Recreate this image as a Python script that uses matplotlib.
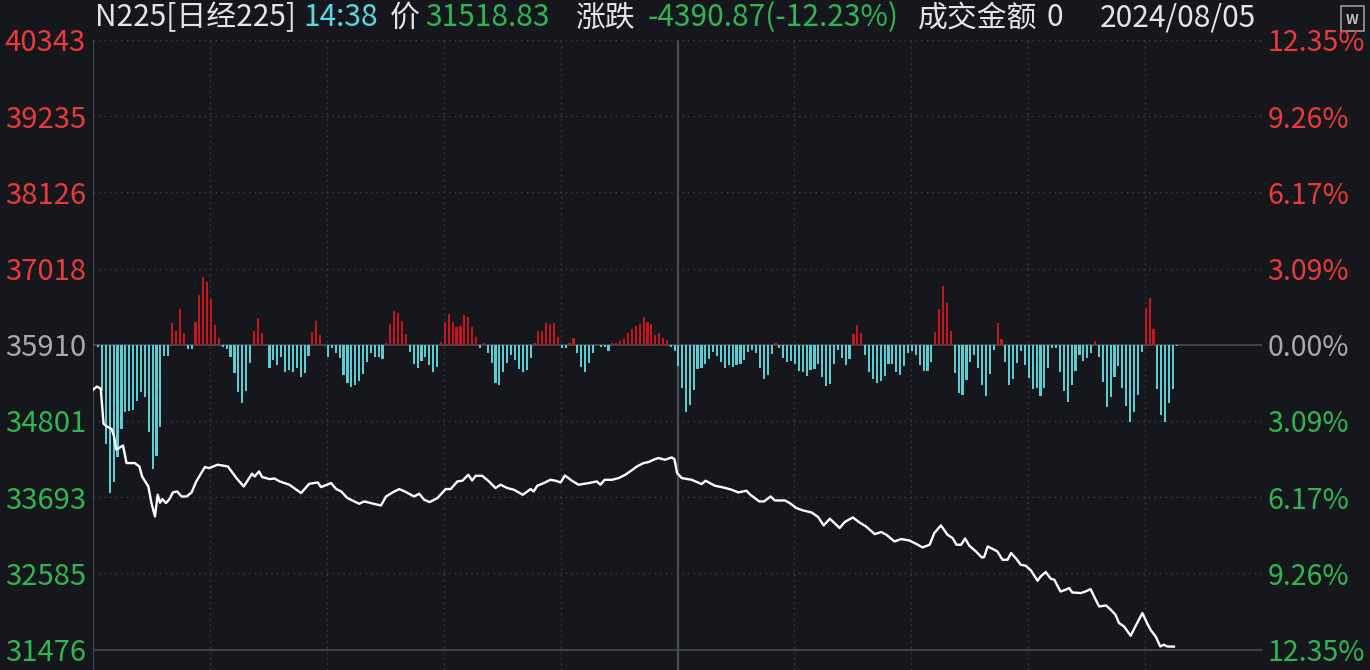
import numpy as np
import matplotlib
matplotlib.use("Agg")
import matplotlib.pyplot as plt
from matplotlib.patches import Rectangle

plt.rcParams['font.family'] = ['Noto Sans CJK SC', 'DejaVu Sans']

# ---------------- data ----------------
prev_close = 35910
price_ticks = [40343, 39235, 38126, 37018, 35910, 34801, 33693, 32585, 31476]
pct_labels = ["12.35%", "9.26%", "6.17%", "3.09%", "0.00%",
              "3.09%", "6.17%", "9.26%", "12.35%"]

# minutes since 09:00 (afternoon session continues at 150 = 12:30)
line_min = [0, 1.0, 2.0, 2.7, 3.5, 4.8, 5.4, 6.0, 7.7, 8.6, 10.7, 11.9, 12.6, 14.2, 15.0,
            15.9, 16.6, 17.2, 17.8, 18.7, 19.5, 20.5, 21.6, 22.7, 24.0, 25.3, 26.5, 28.7,
            29.8, 32.0, 34.6, 36.8, 38.7, 40.8, 41.5, 42.6, 43.4, 45.3, 46.6, 47.9, 50.4,
            53.4, 55.5, 57.7, 58.5, 61.1, 62.4, 63.7, 65.3, 68.3, 69.6, 71.3, 73.9, 75.2,
            76.9, 78.6, 80.3, 82.4, 83.7, 85.0, 86.4, 88.4, 90.5, 91.8, 93.5, 94.8, 96.3,
            97.3, 98.2, 99.9, 101.6, 103.3, 104.6, 106.3, 108.0, 110.3, 112.3, 113.1, 114.0,
            115.7, 117.4, 118.7, 120.0, 121.1, 122.9, 124.6, 127.2, 129.3, 130.2, 131.3,
            133.2, 134.9, 136.6, 137.6, 138.7, 139.6, 141.3, 142.6, 143.8, 145.1, 146.8,
            148.5, 149.2, 149.9, 151.1, 153.6, 156.2, 157.2, 159.6, 161.8, 163.9, 165.6,
            167.7, 168.7, 171.0, 172.2, 173.9, 175.0, 177.6, 178.8, 180.5, 182.2, 184.4,
            186.1, 187.5, 189.1, 190.3, 191.6, 192.9, 195.0, 196.7, 198.4, 200.6, 202.3,
            203.6, 205.7, 207.4, 209.5, 211.2, 212.9, 214.7, 215.9, 217.6, 219.3, 220.6,
            221.6, 222.8, 223.8, 224.9, 226.6, 228.1, 228.7, 229.6, 231.3, 232.1, 233.4,
            234.7, 235.6, 236.8, 238.1, 239.4, 240.7, 242.4, 243.2, 244.5, 245.8, 246.7,
            248.3, 249.6, 250.5, 251.3, 253.5, 254.7, 256.0, 257.1, 258.2, 260.0, 261.2,
            262.4, 263.3, 264.6, 266.3, 267.5, 269.3, 270.5, 271.4, 272.7, 273.9, 274.8,
            275.7, 277.4]
line_price = [35255, 35303, 35270, 34761, 34722, 34684, 34576, 34383, 34445, 34189, 34189,
              34140, 33994, 33849, 33607, 33412, 33728, 33612, 33666, 33607, 33655, 33762,
              33776, 33703, 33703, 33762, 33922, 34131, 34116, 34165, 34140, 33971, 33849,
              34034, 33994, 34067, 33986, 33956, 33964, 33922, 33874, 33753, 33888, 33907,
              33840, 33898, 33811, 33776, 33680, 33597, 33631, 33607, 33572, 33703, 33762,
              33811, 33767, 33703, 33743, 33655, 33622, 33680, 33811, 33811, 33922, 33932,
              34019, 33936, 34004, 34004, 33922, 33826, 33874, 33826, 33801, 33728, 33811,
              33776, 33859, 33898, 33946, 33932, 33907, 34009, 33932, 33874, 33898, 33922,
              33874, 33946, 33946, 33971, 34019, 34058, 34102, 34140, 34189, 34204, 34237,
              34262, 34237, 34271, 34247, 34044, 33971, 33946, 33884, 33932, 33859, 33834,
              33801, 33762, 33786, 33728, 33631, 33631, 33703, 33645, 33645, 33607, 33535,
              33500, 33471, 33404, 33282, 33379, 33316, 33244, 33331, 33398, 33325, 33267,
              33156, 33186, 33146, 33049, 33084, 33063, 33015, 32962, 33001, 33171, 33282,
              33146, 33098, 33001, 33001, 33092, 32986, 32903, 32816, 32822, 32976, 32928,
              32903, 32783, 32783, 32880, 32807, 32710, 32695, 32627, 32477, 32540, 32604,
              32506, 32492, 32321, 32346, 32371, 32307, 32298, 32321, 32356, 32226, 32103,
              32118, 32055, 31983, 31862, 31812, 31677, 31812, 32007, 31862, 31764, 31667,
              31521, 31546, 31521, 31519]

# per-minute strength bars (arbitrary units), morning 150, afternoon 129
bars_am = [1, -2.3, -45.7, -99.3, -147.7, -137.3, -111.7, -84.3, -66.7, -65.7,
           -65, -55.7, -46.7, -51.7, -86.7, -123.7, -110.7, -82.3, -11, -11,
           21.7, 14, 36, 11.7, -3.7, -3.7, 22.7, 50, 68.3, 63,
           46, 20, 6.7, -2.3, -4.3, -12.3, -27.7, -46.7, -58.3, -45.7,
           -17.7, 14, 26.7, 12.3, 0, -22.7, -15, -20, -12.3, -26.7,
           -25, -26.7, -22.7, -31.7, -27.7, -10.7, 12.7, 24, 10, 0,
           -11.7, -3.3, -8.3, -12.7, -30, -38.3, -41.7, -40.3, -36, -29,
           -17.3, -8.3, -11.7, -12.3, -14, 2.3, 21, 34, 31.7, 24,
           11, -7.3, -19.3, -23.3, -16, -11.7, -20.3, -26.7, -21.7, 2.7,
           23.3, 31, 23, 18.3, 19.3, 30, 28.3, 18.3, 7.7, -2.7,
           2.3, -8.3, -18.3, -38.3, -40, -26.7, -18.3, -10, -15, -24,
           -26.7, -25, -12.7, 2.3, 14, 14, 21.7, 21, 21.7, 8.3,
           -3.3, -2.7, 1.7, 7.3, -8.3, -21.7, -26.7, -18.3, -7.7, 0,
           -2.3, -2.3, -5.7, 2.3, 2.3, 4.3, 5.7, 11.7, 16, 19.3,
           21, 28.3, 23.3, 21, 10, 12.3, 7.3, 5, -1.7, -6]
bars_pm = [-21, -43.3, -66.7, -60, -45, -24.3, -23.3, -19, -14.3, -6.7,
           -10.7, -16.7, -23.3, -20, -21.7, -20, -19.3, -15, -6.7, -5,
           -8.3, -23.3, -34.3, -30, -9.3, 1.7, -2.7, -13.3, -16.7, -16,
           -19.3, -26, -26.7, -31, -25, -24.3, -19.3, -31.7, -41, -39.3,
           -19.3, -5, -13.3, -20, -14.3, 11, 20, 11.7, -10, -26.7,
           -34.3, -38.3, -36, -31, -19.3, -19.3, -26.7, -30, -21, -7.7,
           -6, -10, -20, -26, -26, -16.7, 12.7, 35.7, 59, 41.7,
           14, -27.7, -48, -50, -35, -16.7, -10, -23.3, -40, -51,
           -29, -5, 21.7, 5.7, -16.7, -40, -34, -17.7, -6, -20,
           -32.7, -44.3, -43.3, -51, -43.3, -23.3, -3.3, -2.7, -26.7, -46,
           -56.7, -40, -25.7, -10, -15.7, -12.7, -8.3, 4, -11.7, -36.7,
           -61.7, -51.7, -31.7, -21, -42.7, -61, -76.7, -66.7, -50, -6.7,
           36.7, 46.7, 15.7, -44, -70, -76.7, -57.7, -44, -0.7]

header_parts = [("N225[日经225]", 95, "#e4e4e4"),
                ("14:38", 303, "#5ad6e6"),
                ("价", 390, "#e4e4e4"),
                ("31518.83", 425, "#2fb554"),
                ("涨跌", 575, "#e4e4e4"),
                ("-4390.87(-12.23%)", 648, "#2fb554"),
                ("成交金额", 918, "#e4e4e4"),
                ("0", 1047, "#e4e4e4"),
                ("2024/08/05", 1100, "#e4e4e4")]

# ---------------- style ----------------
BG = "#15171c"
RED_TXT = "#ea3b3b"
GREEN_TXT = "#31b650"
GRAY_TXT = "#a9a9a9"
BAR_RED = "#c4171d"
BAR_CYAN = "#5ccdd2"
GRID = "#3c3f46"
SOLID = "#4a4d54"

W, H = 1370, 670
fig = plt.figure(figsize=(W / 100, H / 100), dpi=100, facecolor=BG)
rect = [93 / W, 0, (1262 - 93) / W, (670 - 40) / H]

axb = fig.add_axes(rect, zorder=1)
axb.set_facecolor(BG)
ax = fig.add_axes(rect, zorder=2, sharex=axb)
ax.set_facecolor("none")

ax.set_xlim(0, 300)
ax.set_ylim(31179, 40343)
axb.set_ylim(-325, 305)
axb.set_autoscale_on(False)

# grid (drawn on lower layer, in price coordinates)
for lvl in price_ticks:
    if lvl == prev_close or lvl == price_ticks[-1]:
        axb.plot([0, 300], [lvl, lvl], transform=ax.transData, color=SOLID, lw=1.2,
                 zorder=0)
    else:
        axb.plot([0, 300], [lvl, lvl], transform=ax.transData, color=GRID, lw=1,
                 linestyle=(0, (1, 3)), zorder=0)
for m in range(30, 300, 30):
    if m == 150:
        axb.axvline(m, color=SOLID, lw=1.6, zorder=0)
    else:
        axb.axvline(m, color=GRID, lw=1, linestyle=(0, (1, 3)), zorder=0)
axb.axvline(0, color=SOLID, lw=1.3, zorder=0)

# bars
am_x = np.arange(1, len(bars_am) + 1) - 0.7
pm_x = 150 + np.arange(1, len(bars_pm) + 1) - 0.85
bx = np.concatenate([am_x, pm_x])
bv = np.array(bars_am + bars_pm, dtype=float)
colors = [BAR_RED if v > 0 else BAR_CYAN for v in bv]
axb.bar(bx, bv, width=0.55, color=colors, linewidth=0, zorder=2)

# price line
ax.plot(line_min, line_price, color="white", lw=1.7, zorder=5)

for a in (ax, axb):
    for s in a.spines.values():
        s.set_visible(False)
    a.set_xticks([])
axb.set_yticks([])

ax.set_yticks(price_ticks)
ax.set_yticklabels([str(t) for t in price_ticks])
ax.tick_params(axis="y", length=0, pad=5, labelsize=21)
for t, lab in zip(price_ticks, ax.get_yticklabels()):
    lab.set_color(RED_TXT if t > prev_close else (GRAY_TXT if t == prev_close else GREEN_TXT))

sec = ax.secondary_yaxis("right")
sec.set_yticks(price_ticks)
sec.set_yticklabels(pct_labels)
sec.tick_params(axis="y", length=0, pad=4, labelsize=20.5)
for s in sec.spines.values():
    s.set_visible(False)
for t, lab in zip(price_ticks, sec.get_yticklabels()):
    lab.set_color(RED_TXT if t > prev_close else (GRAY_TXT if t == prev_close else GREEN_TXT))

# header
for txt, xpix, col in header_parts:
    fig.text(xpix / W, 1 - 18 / H, txt, color=col, fontsize=21.5, ha="left", va="center")

# small icon top right
fig.patches.append(Rectangle((1341 / W, 1 - 31 / H), 23 / W, 25 / H, transform=fig.transFigure,
                             facecolor="none", edgecolor="#9a9a9a", lw=1.2))
fig.text(1352.5 / W, 1 - 20 / H, "W", color="#bdbdbd", fontsize=10, ha="center", va="center",
         fontweight="bold")

fig.savefig("out.png", dpi=100, facecolor=BG)
